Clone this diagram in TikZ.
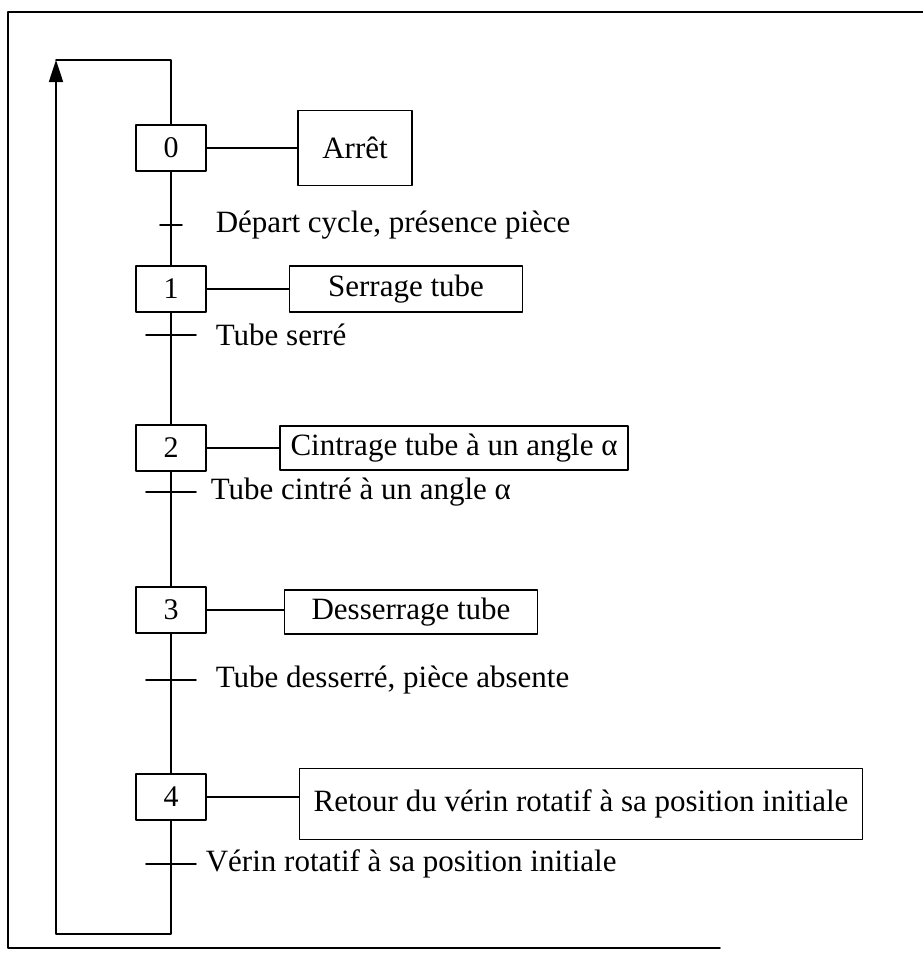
\documentclass[tikz,border=0pt]{standalone}
\usepackage{fontspec}
\setmainfont{Liberation Serif}
\usetikzlibrary{arrows.meta, positioning}
\tikzset{
  fil/.style={line width=1.7pt, line cap=round, line join=round},
  etape/.style={draw, line width=1.8pt, minimum width=70pt, minimum height=46pt, inner sep=0pt, font=\fontsize{30}{34}\selectfont},
  action/.style={draw, line width=1.8pt, inner sep=0pt, font=\fontsize{31}{36}\selectfont},
  recept/.style={anchor=west, inner sep=0pt, font=\fontsize{31}{36}\selectfont}
}
\begin{document}
\begin{tikzpicture}[x=1pt, y=-1pt, fil]
  \useasboundingbox (0,0) rectangle (923,961);
  % cadre
  \draw (923,12) -- (8,12) -- (8,948) -- (720,948);
  % etapes et actions
  \node[etape] (e0) at (171,148) {0};
  \node[etape] (e1) at (171,289) {1};
  \node[etape] (e2) at (171,448) {2};
  \node[etape] (e3) at (171,610) {3};
  \node[etape] (e4) at (171,797) {4};
  \node[action, minimum width=114pt, minimum height=75pt] (a0) at (355,148) {Arrêt};
  \node[action, minimum width=233pt, minimum height=46pt] (a1) at (406,289) {Serrage tube};
  \node[action, minimum width=348pt, minimum height=44pt] (a2) at (454,448) {Cintrage tube à un angle α};
  \node[action, minimum width=253pt, minimum height=44pt] (a3) at (411,612) {Desserrage tube};
  \node[action, minimum width=563pt, minimum height=71pt] (a4) at (581,804) {Retour du vérin rotatif à sa position initiale};
  \foreach \n in {0,...,4}{\draw (e\n.east) -- (e\n.east -| a\n.west);}
  % transitions
  \coordinate (t0) at (171,225);
  \coordinate (t1) at (171,335);
  \coordinate (t2) at (171,492);
  \coordinate (t3) at (171,680);
  \coordinate (t4) at (171,864);
  \draw (e0) -- (e1) -- (e2) -- (e3) -- (e4);
  \draw ([xshift=-11pt]t0) -- ([xshift=11pt]t0);
  \foreach \n in {1,...,4}{\draw ([xshift=-25pt]t\n) -- ([xshift=25pt]t\n);}
  \node[recept] (r0) at (215,225) {Départ cycle, présence pièce};
  \node[recept] (r1) at (215,335) {Tube serré};
  \node[recept] (r2) at (210,492) {Tube cintré à un angle α};
  \node[recept] (r3) at (215,680) {Tube desserré, pièce absente};
  \node[recept] (r4) at (205,864) {Vérin rotatif à sa position initiale};
  % retour
  \coordinate (bas) at (171,934);
  \coordinate (gbas) at (56,934);
  \coordinate (ghaut) at (56,60);
  \coordinate (haut) at (171,60);
  \draw[-{Triangle[length=22pt, width=14pt]}] (e4.south) -- (bas) -- (gbas) -- (ghaut);
  \draw (ghaut) -- (haut) -- (e0.north);
\end{tikzpicture}
\end{document}
